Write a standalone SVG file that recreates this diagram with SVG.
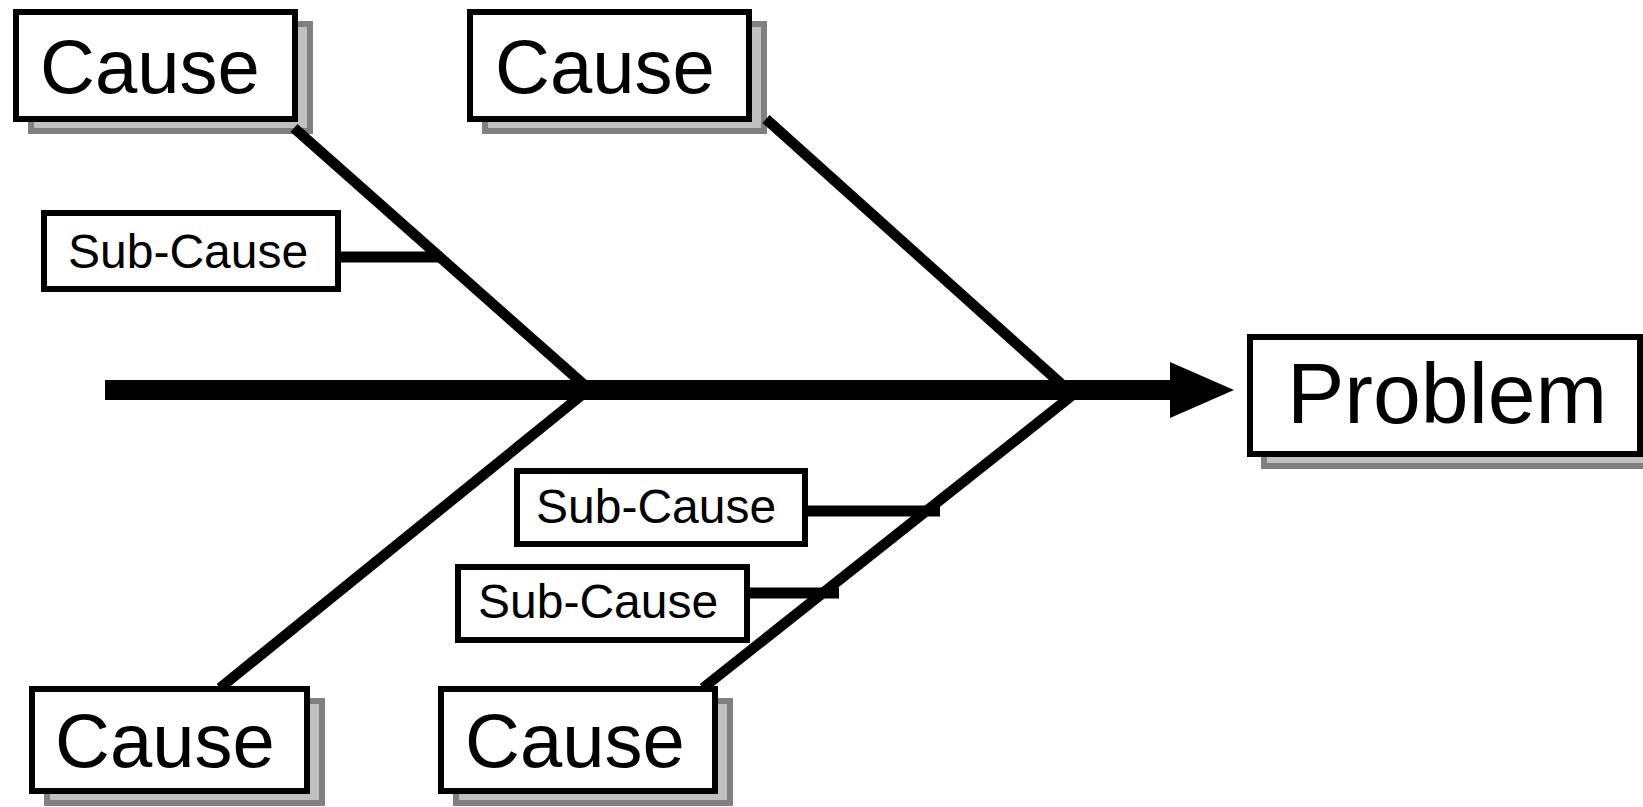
<svg xmlns="http://www.w3.org/2000/svg" width="1643" height="807" viewBox="0 0 1643 807">
<style>
.box{fill:#fff;stroke:#000;stroke-width:6}
.shadow{fill:#c0c0c0;stroke:#808080;stroke-width:6}
.big{font-family:"Liberation Sans",Arial,sans-serif;font-size:76px;fill:#000}
.small{font-family:"Liberation Sans",Arial,sans-serif;font-size:48px;fill:#000}
.prob{font-family:"Liberation Sans",Arial,sans-serif;font-size:86px;fill:#000}
.bone{stroke:#000;stroke-width:10.5;fill:none}
.stub{stroke:#000;stroke-width:11;fill:none}
.spine{stroke:#000;stroke-width:20;fill:none}
</style>
<rect width="1643" height="807" fill="#fff"/>
<g id="cause-top-left">
<rect class="shadow" x="31" y="24" width="279" height="107"/>
<rect class="box" x="16" y="12" width="279" height="107"/>
<text class="big" x="40" y="93">Cause</text>
</g>
<g id="cause-top-right">
<rect class="shadow" x="485" y="24" width="279" height="107"/>
<rect class="box" x="470" y="12" width="279" height="107"/>
<text class="big" x="495" y="93">Cause</text>
</g>
<g id="cause-bottom-left">
<rect class="shadow" x="47" y="701" width="275" height="102"/>
<rect class="box" x="32" y="689" width="275" height="102"/>
<text class="big" x="55" y="767">Cause</text>
</g>
<g id="cause-bottom-right">
<rect class="shadow" x="456" y="701" width="274" height="102"/>
<rect class="box" x="441" y="689" width="274" height="102"/>
<text class="big" x="465" y="767">Cause</text>
</g>
<g id="subcause-top">
<rect class="box" x="44" y="213" width="294" height="76"/>
<text class="small" x="68" y="268">Sub-Cause</text>
</g>
<g id="subcause-mid">
<rect class="box" x="517" y="471" width="288" height="73"/>
<text class="small" x="536" y="523">Sub-Cause</text>
</g>
<g id="subcause-low">
<rect class="box" x="458" y="567" width="289" height="73"/>
<text class="small" x="478" y="618">Sub-Cause</text>
</g>
<g id="problem">
<rect class="shadow" x="1264" y="349" width="390" height="117"/>
<rect class="box" x="1250" y="337" width="390" height="117"/>
<text class="prob" x="1287" y="423">Problem</text>
</g>
<g id="connectors">
<path class="spine" d="M105,390 H1175"/>
<polygon points="1170,362 1234,390 1170,418" fill="#000"/>
<path class="bone" d="M294,128 L590,390"/>
<path class="bone" d="M766,119 L1068,390"/>
<path class="bone" d="M588,390 L220,688"/>
<path class="bone" d="M1079,390 L703,688"/>
<path class="stub" d="M341,257 H442"/>
<path class="stub" d="M808,511 H940"/>
<path class="stub" d="M750,593 H839"/>
</g>
</svg>
